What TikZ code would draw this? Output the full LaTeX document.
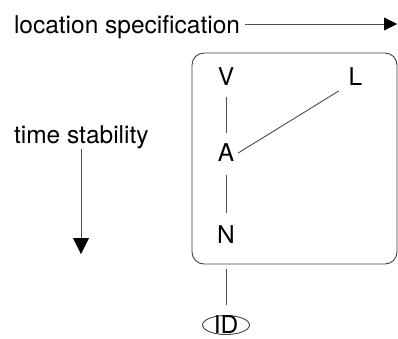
\documentclass[tikz,border=0pt]{standalone}
\usepackage{fontspec}
\setmainfont{TeX Gyre Heros}
\usetikzlibrary{arrows.meta,shapes.geometric}
\begin{document}
\begin{tikzpicture}[x=1pt,y=-1pt,
  lbl/.style={font=\fontsize{24.5}{28}\selectfont, text=black, inner sep=0pt, outer sep=0pt},
  letter/.style={lbl, text height=17pt, text depth=0pt, anchor=base},
  conn/.style={draw=black!70, line width=0.9pt},
  arr/.style={conn, -{Triangle[length=#1,width=#1,color=black]}},
  frame/.style={draw=black!75, line width=0.9pt, rounded corners=12pt, inner sep=0pt}]
\useasboundingbox (0,0) rectangle (398,338);
% axis labels
\node[lbl, anchor=base west] (loc) at (14,33.5) {location specification};
\node[lbl, anchor=base west] (time) at (14,143) {time stability};
\coordinate (locA) at (245,24);
\coordinate (locB) at (397,24);
\coordinate (timeA) at (81,149);
\coordinate (timeB) at (81,254);
\draw[arr=13pt] (locA) -- (locB);
\draw[arr=16pt] (timeA) -- (timeB);
% box
\node[frame, minimum width=205pt, minimum height=211pt] (box) at (294.5,158.5) {};
% letters
\node[letter] (V) at (226,85) {V};
\node[letter] (L) at (355.5,85) {L};
\node[letter] (A) at (226,161.5) {A};
\node[letter] (N) at (226,243) {N};
\draw[conn, shorten <=12pt, shorten >=12pt] (V) -- (A);
\draw[conn, shorten <=13.5pt, shorten >=13pt] (A) -- (N);
\draw[conn] ([xshift=4pt]A.east) -- ([xshift=-10pt,yshift=-6pt]L.south west);
% ID
\node[ellipse, draw=black!75, line width=0.9pt, minimum width=47pt, minimum height=19pt,
      inner sep=0pt] (ID) at (226,325) {};
\node[lbl] (IDtext) at (ID.center) {ID};
\draw[conn, shorten <=5pt, shorten >=10pt] (box.south -| N) -- (ID.north);
\end{tikzpicture}
\end{document}
